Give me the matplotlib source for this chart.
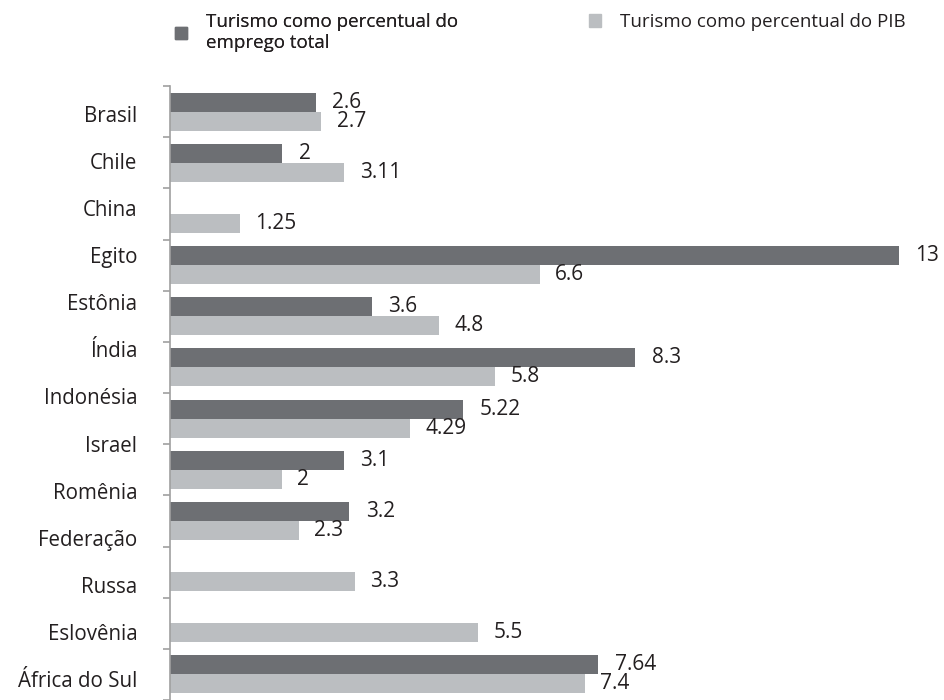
import numpy as np
import matplotlib
matplotlib.use("Agg")
import matplotlib.pyplot as plt
from matplotlib.patches import Patch

plt.rcParams['font.family'] = ['Open Sans', 'DejaVu Sans']

# dados do gráfico
paises = ['Brasil', 'Chile', 'China', 'Egito', 'Estônia', 'Índia', 'Indonésia',
          'Israel', 'Romênia', 'Federação Russa', 'Eslovênia', 'África do Sul']
rotulos = ['Brasil', 'Chile', 'China', 'Egito', 'Estônia', 'Índia', 'Indonésia',
           'Israel', 'Romênia', 'Federação', 'Russa', 'Eslovênia', 'África do Sul']
emprego = [2.6, 2, None, 13, 3.6, 8.3, 5.22, 3.1, 3.2, None, None, 7.64]
pib = [2.7, 3.11, 1.25, 6.6, 4.8, 5.8, 4.29, 2, 2.3, 3.3, 5.5, 7.4]

nome_emprego = 'Turismo como percentual do\nemprego total'
nome_pib = 'Turismo como percentual do PIB'

cor_escura = '#6d6f73'
cor_clara = '#bbbec1'
cor_texto = '#231f20'

W, H = 944, 700
fig = plt.figure(figsize=(W / 100, H / 100), dpi=100)
ax = fig.add_axes([170 / W, 0, 1 - 170 / W, 1 - 86 / H])

y = np.arange(len(paises))
h = 0.37
for i, (e, p) in enumerate(zip(emprego, pib)):
    if e is not None:
        ax.barh(y[i] - h / 2, e, height=h, color=cor_escura)
        ax.annotate(f'{e:g}', (e, y[i] - h / 2), xytext=(12, 0), textcoords='offset points',
                    va='center', ha='left', fontsize=15, color=cor_texto)
    if p is not None:
        ax.barh(y[i] + h / 2, p, height=h, color=cor_clara)
        ax.annotate(f'{p:g}', (p, y[i] + h / 2), xytext=(11, 0), textcoords='offset points',
                    va='center', ha='left', fontsize=15, color=cor_texto)

ax.set_xlim(0, (W - 170) / 56.05)
ax.set_ylim((H - 111.5) / 51.35, -0.5)

# rótulos das categorias (13 linhas, espaçamento diferente das barras)
pos_rot = np.arange(len(rotulos)) * 0.921 + 0.04
ax.set_yticks(pos_rot)
ax.set_yticklabels(rotulos, fontsize=14.8, color=cor_texto)
ax.set_yticks(np.arange(len(paises) + 1) - 0.5, minor=True)
ax.tick_params(axis='y', which='major', length=0, pad=23.5)
ax.tick_params(axis='y', which='minor', length=5, width=1.2, color='#a0a0a0', direction='out')
ax.set_xticks([])

for s in ['top', 'right', 'bottom']:
    ax.spines[s].set_visible(False)
ax.spines['left'].set_color('#a0a0a0')
ax.spines['left'].set_linewidth(1.2)

leg1 = fig.legend(handles=[Patch(color=cor_escura, label=nome_emprego)],
                  loc='upper left', bbox_to_anchor=(175 / W, 1 - 13 / H),
                  frameon=False, fontsize=13.5, borderpad=0, borderaxespad=0,
                  handlelength=0.65, handleheight=0.65, handletextpad=1.0,
                  labelspacing=0, labelcolor=cor_texto)
fig.legend(handles=[Patch(color=cor_clara, label=nome_pib)],
           loc='upper left', bbox_to_anchor=(589 / W, 1 - 13 / H),
           frameon=False, fontsize=13.5, borderpad=0, borderaxespad=0,
           handlelength=0.65, handleheight=0.65, handletextpad=1.0,
           labelcolor=cor_texto)
fig.add_artist(leg1)

fig.savefig('out.png', dpi=100)
